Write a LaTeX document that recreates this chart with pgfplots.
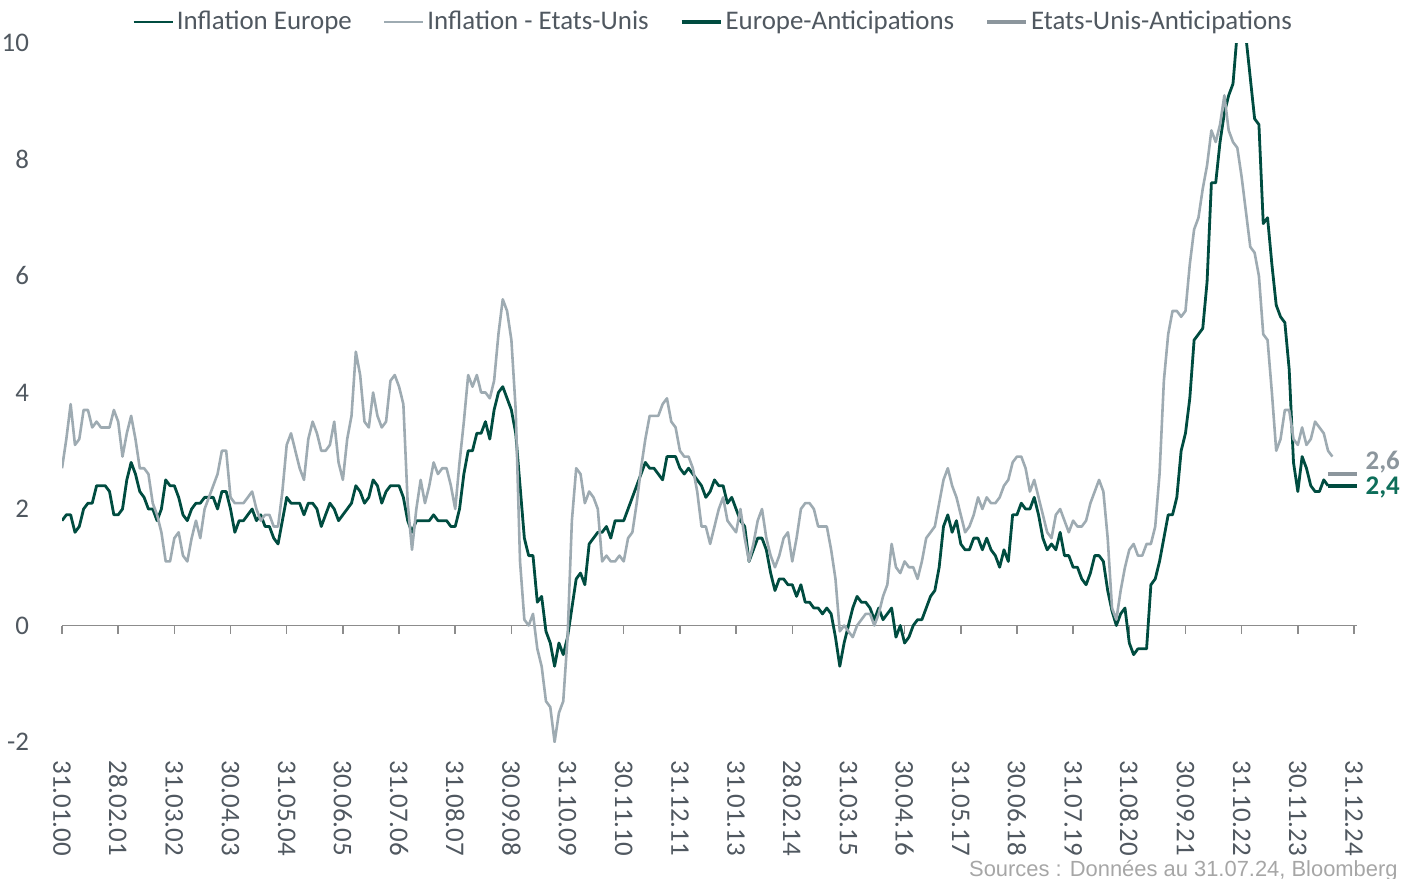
\documentclass[border=0pt]{standalone}
\usepackage{fontspec}
\setmainfont{Carlito}
\newfontfamily\srcfont{Liberation Sans}
\usepackage{pgfplots}
\usepackage{pgfplotstable}
\pgfplotsset{compat=1.18}
\definecolor{eugreen}{RGB}{0,76,64}
\definecolor{usgrey}{RGB}{158,171,178}
\definecolor{usant}{RGB}{140,150,157}
\definecolor{labgreen}{RGB}{14,110,90}
\definecolor{txt}{RGB}{80,88,96}
\definecolor{axisgrey}{RGB}{140,140,140}
\definecolor{srcgrey}{RGB}{166,166,166}

% Monthly y/y inflation, Jan 2000 = index 0
\pgfplotstableread[row sep=\\]{v\\
1.8\\ 1.9\\ 1.9\\ 1.6\\ 1.7\\ 2.0\\ 2.1\\ 2.1\\ 2.4\\ 2.4\\ 2.4\\ 2.3\\
1.9\\ 1.9\\ 2.0\\ 2.5\\ 2.8\\ 2.6\\ 2.3\\ 2.2\\ 2.0\\ 2.0\\ 1.8\\ 2.0\\
2.5\\ 2.4\\ 2.4\\ 2.2\\ 1.9\\ 1.8\\ 2.0\\ 2.1\\ 2.1\\ 2.2\\ 2.2\\ 2.2\\
2.0\\ 2.3\\ 2.3\\ 2.0\\ 1.6\\ 1.8\\ 1.8\\ 1.9\\ 2.0\\ 1.8\\ 1.9\\ 1.7\\
1.7\\ 1.5\\ 1.4\\ 1.8\\ 2.2\\ 2.1\\ 2.1\\ 2.1\\ 1.9\\ 2.1\\ 2.1\\ 2.0\\
1.7\\ 1.9\\ 2.1\\ 2.0\\ 1.8\\ 1.9\\ 2.0\\ 2.1\\ 2.4\\ 2.3\\ 2.1\\ 2.2\\
2.5\\ 2.4\\ 2.1\\ 2.3\\ 2.4\\ 2.4\\ 2.4\\ 2.2\\ 1.8\\ 1.6\\ 1.8\\ 1.8\\
1.8\\ 1.8\\ 1.9\\ 1.8\\ 1.8\\ 1.8\\ 1.7\\ 1.7\\ 2.0\\ 2.6\\ 3.0\\ 3.0\\
3.3\\ 3.3\\ 3.5\\ 3.2\\ 3.7\\ 4.0\\ 4.1\\ 3.9\\ 3.7\\ 3.3\\ 2.4\\ 1.5\\
1.2\\ 1.2\\ 0.4\\ 0.5\\ -0.1\\ -0.3\\ -0.7\\ -0.3\\ -0.5\\ -0.2\\ 0.3\\ 0.8\\
0.9\\ 0.7\\ 1.4\\ 1.5\\ 1.6\\ 1.6\\ 1.7\\ 1.5\\ 1.8\\ 1.8\\ 1.8\\ 2.0\\
2.2\\ 2.4\\ 2.6\\ 2.8\\ 2.7\\ 2.7\\ 2.6\\ 2.5\\ 2.9\\ 2.9\\ 2.9\\ 2.7\\
2.6\\ 2.7\\ 2.6\\ 2.5\\ 2.4\\ 2.2\\ 2.3\\ 2.5\\ 2.4\\ 2.4\\ 2.1\\ 2.2\\
2.0\\ 1.8\\ 1.7\\ 1.1\\ 1.3\\ 1.5\\ 1.5\\ 1.3\\ 0.9\\ 0.6\\ 0.8\\ 0.8\\
0.7\\ 0.7\\ 0.5\\ 0.7\\ 0.4\\ 0.4\\ 0.3\\ 0.3\\ 0.2\\ 0.3\\ 0.2\\ -0.2\\
-0.7\\ -0.3\\ 0.0\\ 0.3\\ 0.5\\ 0.4\\ 0.4\\ 0.3\\ 0.1\\ 0.3\\ 0.1\\ 0.2\\
0.3\\ -0.2\\ 0.0\\ -0.3\\ -0.2\\ 0.0\\ 0.1\\ 0.1\\ 0.3\\ 0.5\\ 0.6\\ 1.0\\
1.7\\ 1.9\\ 1.6\\ 1.8\\ 1.4\\ 1.3\\ 1.3\\ 1.5\\ 1.5\\ 1.3\\ 1.5\\ 1.3\\
1.2\\ 1.0\\ 1.3\\ 1.1\\ 1.9\\ 1.9\\ 2.1\\ 2.0\\ 2.0\\ 2.2\\ 1.9\\ 1.5\\
1.3\\ 1.4\\ 1.3\\ 1.6\\ 1.2\\ 1.2\\ 1.0\\ 1.0\\ 0.8\\ 0.7\\ 0.9\\ 1.2\\
1.2\\ 1.1\\ 0.6\\ 0.25\\ 0.0\\ 0.2\\ 0.3\\ -0.3\\ -0.5\\ -0.4\\ -0.4\\ -0.4\\
0.7\\ 0.8\\ 1.1\\ 1.5\\ 1.9\\ 1.9\\ 2.2\\ 3.0\\ 3.3\\ 3.9\\ 4.9\\ 5.0\\
5.1\\ 5.9\\ 7.6\\ 7.6\\ 8.3\\ 8.8\\ 9.1\\ 9.3\\ 10.2\\ 10.6\\ 10.1\\ 9.4\\
8.7\\ 8.6\\ 6.9\\ 7.0\\ 6.2\\ 5.5\\ 5.3\\ 5.2\\ 4.4\\ 2.8\\ 2.3\\ 2.9\\
2.7\\ 2.4\\ 2.3\\ 2.3\\ 2.5\\ 2.4\\
}\eudata

\pgfplotstableread[row sep=\\]{v\\
2.7\\ 3.2\\ 3.8\\ 3.1\\ 3.2\\ 3.7\\ 3.7\\ 3.4\\ 3.5\\ 3.4\\ 3.4\\ 3.4\\
3.7\\ 3.5\\ 2.9\\ 3.3\\ 3.6\\ 3.2\\ 2.7\\ 2.7\\ 2.6\\ 2.1\\ 1.9\\ 1.6\\
1.1\\ 1.1\\ 1.5\\ 1.6\\ 1.2\\ 1.1\\ 1.5\\ 1.8\\ 1.5\\ 2.0\\ 2.2\\ 2.4\\
2.6\\ 3.0\\ 3.0\\ 2.2\\ 2.1\\ 2.1\\ 2.1\\ 2.2\\ 2.3\\ 2.0\\ 1.8\\ 1.9\\
1.9\\ 1.7\\ 1.7\\ 2.3\\ 3.1\\ 3.3\\ 3.0\\ 2.7\\ 2.5\\ 3.2\\ 3.5\\ 3.3\\
3.0\\ 3.0\\ 3.1\\ 3.5\\ 2.8\\ 2.5\\ 3.2\\ 3.6\\ 4.7\\ 4.3\\ 3.5\\ 3.4\\
4.0\\ 3.6\\ 3.4\\ 3.5\\ 4.2\\ 4.3\\ 4.1\\ 3.8\\ 2.1\\ 1.3\\ 2.0\\ 2.5\\
2.1\\ 2.4\\ 2.8\\ 2.6\\ 2.7\\ 2.7\\ 2.4\\ 2.0\\ 2.8\\ 3.5\\ 4.3\\ 4.1\\
4.3\\ 4.0\\ 4.0\\ 3.9\\ 4.2\\ 5.0\\ 5.6\\ 5.4\\ 4.9\\ 3.7\\ 1.1\\ 0.1\\
0.0\\ 0.2\\ -0.4\\ -0.7\\ -1.3\\ -1.4\\ -2.0\\ -1.5\\ -1.3\\ -0.2\\ 1.8\\ 2.7\\
2.6\\ 2.1\\ 2.3\\ 2.2\\ 2.0\\ 1.1\\ 1.2\\ 1.1\\ 1.1\\ 1.2\\ 1.1\\ 1.5\\
1.6\\ 2.1\\ 2.7\\ 3.2\\ 3.6\\ 3.6\\ 3.6\\ 3.8\\ 3.9\\ 3.5\\ 3.4\\ 3.0\\
2.9\\ 2.9\\ 2.7\\ 2.3\\ 1.7\\ 1.7\\ 1.4\\ 1.7\\ 2.0\\ 2.2\\ 1.8\\ 1.7\\
1.6\\ 2.0\\ 1.5\\ 1.1\\ 1.4\\ 1.8\\ 2.0\\ 1.5\\ 1.2\\ 1.0\\ 1.2\\ 1.5\\
1.6\\ 1.1\\ 1.5\\ 2.0\\ 2.1\\ 2.1\\ 2.0\\ 1.7\\ 1.7\\ 1.7\\ 1.3\\ 0.8\\
-0.1\\ 0.0\\ -0.1\\ -0.2\\ 0.0\\ 0.1\\ 0.2\\ 0.2\\ 0.0\\ 0.2\\ 0.5\\ 0.7\\
1.4\\ 1.0\\ 0.9\\ 1.1\\ 1.0\\ 1.0\\ 0.8\\ 1.1\\ 1.5\\ 1.6\\ 1.7\\ 2.1\\
2.5\\ 2.7\\ 2.4\\ 2.2\\ 1.9\\ 1.6\\ 1.7\\ 1.9\\ 2.2\\ 2.0\\ 2.2\\ 2.1\\
2.1\\ 2.2\\ 2.4\\ 2.5\\ 2.8\\ 2.9\\ 2.9\\ 2.7\\ 2.3\\ 2.5\\ 2.2\\ 1.9\\
1.6\\ 1.5\\ 1.9\\ 2.0\\ 1.8\\ 1.6\\ 1.8\\ 1.7\\ 1.7\\ 1.8\\ 2.1\\ 2.3\\
2.5\\ 2.3\\ 1.5\\ 0.3\\ 0.1\\ 0.6\\ 1.0\\ 1.3\\ 1.4\\ 1.2\\ 1.2\\ 1.4\\
1.4\\ 1.7\\ 2.6\\ 4.2\\ 5.0\\ 5.4\\ 5.4\\ 5.3\\ 5.4\\ 6.2\\ 6.8\\ 7.0\\
7.5\\ 7.9\\ 8.5\\ 8.3\\ 8.6\\ 9.1\\ 8.5\\ 8.3\\ 8.2\\ 7.7\\ 7.1\\ 6.5\\
6.4\\ 6.0\\ 5.0\\ 4.9\\ 4.0\\ 3.0\\ 3.2\\ 3.7\\ 3.7\\ 3.2\\ 3.1\\ 3.4\\
3.1\\ 3.2\\ 3.5\\ 3.4\\ 3.3\\ 3.0\\ 2.9\\
}\usdata

\begin{document}
\begin{tikzpicture}
\begin{axis}[
  scale only axis, width=647.5bp, height=349.5bp,
  xmin=0, xmax=299.7, ymin=-2, ymax=10,
  axis x line*=middle, axis y line*=left,
  hide obscured x ticks=false, hide obscured y ticks=false,
  y axis line style={draw=none},
  x axis line style={draw=axisgrey, line width=0.75bp},
  xtick={0,13,...,299},
  xticklabels={31.01.00,28.02.01,31.03.02,30.04.03,31.05.04,30.06.05,31.07.06,31.08.07,30.09.08,31.10.09,30.11.10,31.12.11,31.01.13,28.02.14,31.03.15,30.04.16,31.05.17,30.06.18,31.07.19,31.08.20,30.09.21,31.10.22,30.11.23,31.12.24},
  xtick style={draw=axisgrey, line width=0.75bp},
  tick align=outside, major tick length=4bp,
  ytick={-2,0,...,10}, yticklabels={-2,0,2,4,6,8,10},
  ytick style={draw=none},
  ticklabel style={font=\fontsize{13.5}{16}\selectfont, text=txt},
  xticklabel style={yshift=-60bp, rotate=-90, anchor=west},
  yticklabel style={anchor=east, xshift=-9bp},
  clip mode=individual,
  legend columns=4,
  legend style={at={(0.5031,1.030)}, anchor=center, draw=none, fill=none,
    font=\fontsize{13.5}{16}\selectfont, text=txt,
    nodes={inner sep=1.5bp},
    /tikz/every even column/.append style={column sep=14bp}},
  legend image code/.code={\draw[#1] (0bp,0bp) -- (19.5bp,0bp);},
]
\addplot[eugreen, line width=1.4bp, line join=round] table[x expr=\coordindex, y=v] {\eudata};
\addlegendentry{Inflation Europe}
\addplot[usgrey, line width=1.3bp, line join=round] table[x expr=\coordindex, y=v] {\usdata};
\addlegendentry{Inflation - Etats-Unis}
\addplot[eugreen, line width=1.9bp] coordinates {(293,2.4) (299.7,2.4)};
\addlegendentry{Europe-Anticipations}
\addplot[usant, line width=1.9bp] coordinates {(293,2.6) (299.7,2.6)};
\addlegendentry{Etats-Unis-Anticipations}

\node[anchor=west, inner sep=0, text=usant, font=\bfseries\fontsize{13.5}{16}\selectfont] at (axis cs:301.6,2.81) {2,6};
\node[anchor=west, inner sep=0, text=labgreen, font=\bfseries\fontsize{13.5}{16}\selectfont] at (axis cs:301.6,2.37) {2,4};
\node[anchor=base east, inner sep=0, text=srcgrey, font=\srcfont\fontsize{11}{13}\selectfont] at (rel axis cs:1.0317,-0.1917) {Sources : Données au 31.07.24, Bloomberg};

\coordinate (bbll) at (rel axis cs:-0.04788,-0.19599);
\coordinate (bbur) at (rel axis cs:1.03475,1.06152);
\end{axis}
\pgfresetboundingbox
\useasboundingbox (bbll) rectangle (bbur);
\end{tikzpicture}
\end{document}
